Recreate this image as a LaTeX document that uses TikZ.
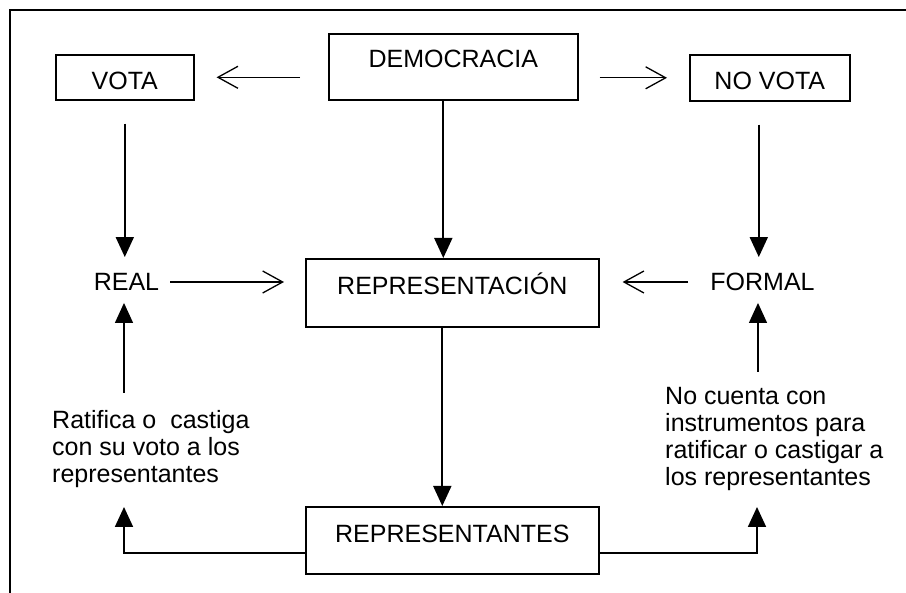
\documentclass[tikz,border=0pt]{standalone}
\usepackage{fontspec}
\setmainfont{Liberation Sans}
\usetikzlibrary{arrows.meta}
\begin{document}
\begin{tikzpicture}[x=1pt,y=-1pt,
  every node/.style={font=\fontsize{25}{27}\selectfont},
  box/.style={draw,line width=1.6pt,inner sep=0pt,anchor=north west},
  lbl/.style={inner sep=0pt,text height=17.5pt,text depth=0pt},
  para/.style={inner sep=0pt,align=left,anchor=north west},
  openarrow/.style={line width=1.3pt,-{Straight Barb[length=20pt,width=22pt]}},
  solidarrow/.style={line width=1.8pt,-{Triangle[length=20pt,width=18pt]}},
  thinsolid/.style={line width=1.3pt,-{Triangle[length=20pt,width=18pt]}}]

\useasboundingbox (0,0) rectangle (906,593);
\draw[line width=2.2pt] (10,593) -- (10,10) -- (906,10);

% boxes
\node[box,minimum width=249pt,text height=34pt,text depth=32pt] (dem) at (328,33) {DEMOCRACIA};
\node[box,minimum width=138pt,text height=35pt,text depth=10pt] (vota) at (55,54) {VOTA};
\node[box,minimum width=160pt,text height=35pt,text depth=11pt] (novota) at (689,54) {NO VOTA};
\node[box,minimum width=293pt,text height=36pt,text depth=32pt] (repn) at (305,258) {REPRESENTACIÓN};
\node[box,minimum width=293pt,text height=36pt,text depth=31pt] (reps) at (305,506) {REPRESENTANTES};

% labels
\node[lbl] (real) at (126.5,282) {REAL};
\node[lbl] (formal) at (762.5,282) {FORMAL};
\node[para] (rat) at (52,410) {Ratifica o\ \ castiga\\con su voto a los\\representantes};
\node[para] (nocu) at (665,387) {No cuenta con\\instrumentos para\\ratificar o castigar a\\los representantes};

% helper coordinates
\coordinate (lbot) at (124,393);
\coordinate (rbot) at (758,372);
\coordinate (ltip) at (124,507);
\coordinate (rtip) at (757,507);

% connectors
\draw[openarrow,shorten <=28pt,shorten >=22pt] (dem.west |- vota.east) -- (vota.east);
\draw[openarrow,shorten <=21pt,shorten >=22pt] (dem.east |- novota.west) -- (novota.west);
\draw[solidarrow,shorten <=23pt,shorten >=16pt] (vota.south) -- (vota.south |- real.north);
\draw[solidarrow,shorten <=23pt,shorten >=16pt] ([xshift=-11pt]novota.south) -- ([xshift=-11pt]novota.south |- formal.north);
\draw[solidarrow] ([xshift=-10pt]dem.south) -- ([xshift=-10pt]dem.south |- repn.north);
\draw[solidarrow] ([xshift=-10pt]repn.south) -- ([xshift=-10pt]repn.south |- reps.north);
\draw[openarrow,shorten <=11pt,shorten >=21pt] (real.east) -- (real.east -| repn.west);
\draw[openarrow,shorten <=22pt,shorten >=23pt] (formal.west) -- (formal.west -| repn.east);
\draw[thinsolid,shorten >=12pt] (lbot) -- (lbot |- real.south);
\draw[thinsolid,shorten >=12pt] (rbot) -- (rbot |- formal.south);
\draw[solidarrow] ([yshift=-12.5pt]reps.west) -| (ltip);
\draw[solidarrow] ([yshift=-12.5pt]reps.east) -| (rtip);
\end{tikzpicture}
\end{document}
